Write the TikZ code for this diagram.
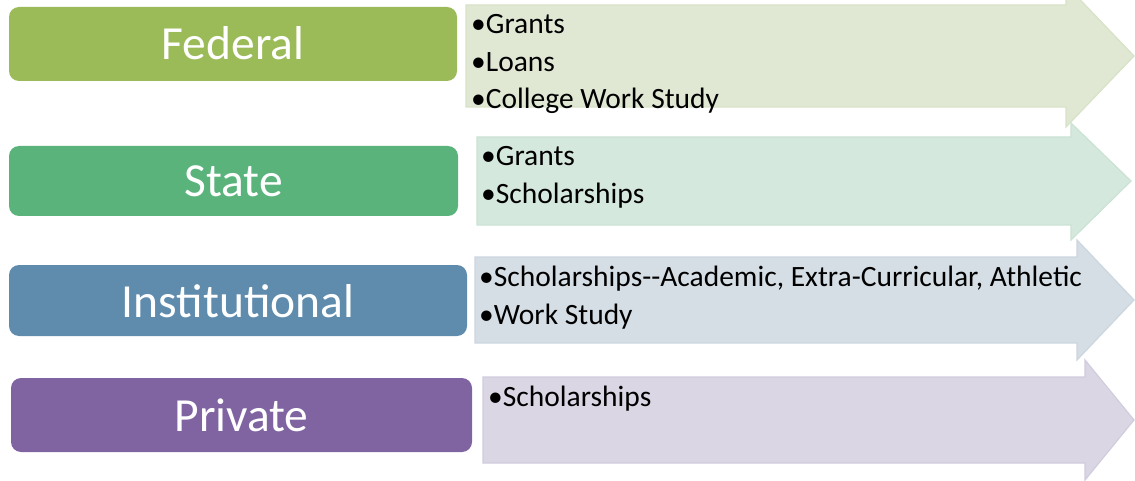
\documentclass[tikz,border=0pt]{standalone}
\usepackage{fontspec}
\setmainfont{Carlito}
\definecolor{fedbox}{RGB}{155,187,89}
\definecolor{stabox}{RGB}{91,179,124}
\definecolor{insbox}{RGB}{95,139,173}
\definecolor{pribox}{RGB}{128,100,162}
\definecolor{fedarr}{RGB}{224,232,212}
\definecolor{staarr}{RGB}{213,232,221}
\definecolor{insarr}{RGB}{214,222,229}
\definecolor{priarr}{RGB}{218,214,228}
\definecolor{fedline}{RGB}{215,226,199}
\definecolor{staline}{RGB}{203,226,212}
\definecolor{insline}{RGB}{204,214,223}
\definecolor{priline}{RGB}{209,204,222}
\tikzset{
  catbox/.style={rounded corners=10pt},
  cattext/.style={text=white, anchor=base, inner sep=0pt, font=\fontsize{47.5}{52}\selectfont},
  itemtext/.style={text=black, anchor=base west, inner sep=0pt, font=\fontsize{29.5}{35}\selectfont},
  arr/.style={line width=1.2pt, line join=miter}
}
\begin{document}
\begin{tikzpicture}[x=1pt,y=-1pt]
\useasboundingbox (0,0) rectangle (1135,481);
% arrows
\filldraw[arr, fill=fedarr, draw=fedline] (466,5) -- (1066,5) -- (1066,-15) -- (1134,56) -- (1066,127) -- (1066,107) -- (466,107) -- cycle;
\filldraw[arr, fill=staarr, draw=staline] (477,137) -- (1071,137) -- (1071,123) -- (1131,181) -- (1071,240) -- (1071,225) -- (477,225) -- cycle;
\filldraw[arr, fill=insarr, draw=insline] (475,257) -- (1077,257) -- (1077,240) -- (1134,300) -- (1077,360) -- (1077,343) -- (475,343) -- cycle;
\filldraw[arr, fill=priarr, draw=priline] (483,377) -- (1085,377) -- (1085,360) -- (1134,420) -- (1085,480) -- (1085,463) -- (483,463) -- cycle;
% category boxes
\fill[catbox, fedbox] (9,7) rectangle (457,81);
\fill[catbox, stabox] (9,146) rectangle (458,216);
\fill[catbox, insbox] (9,265) rectangle (467,336);
\fill[catbox, pribox] (11,378) rectangle (472,452);
\node[cattext] (fed) at (233,60) {Federal};
\node[cattext] (sta) at (233.5,197) {State};
\node[cattext] (ins) at (238,317) {Institutional};
\node[cattext] (pri) at (241.5,431) {Private};
% items
\node[itemtext] (f1) at (471,34) {•Grants};
\node[itemtext] (f2) at (471,72) {•Loans};
\node[itemtext] (f3) at (471,109) {•College Work Study};
\node[itemtext] (s1) at (481,166) {•Grants};
\node[itemtext] (s2) at (481,204) {•Scholarships};
\node[itemtext] (i1) at (479,286) {•Scholarships-{}-Academic, Extra-Curricular, Athletic};
\node[itemtext] (i2) at (479,324) {•Work Study};
\node[itemtext] (p1) at (488,406) {•Scholarships};
\end{tikzpicture}
\end{document}
